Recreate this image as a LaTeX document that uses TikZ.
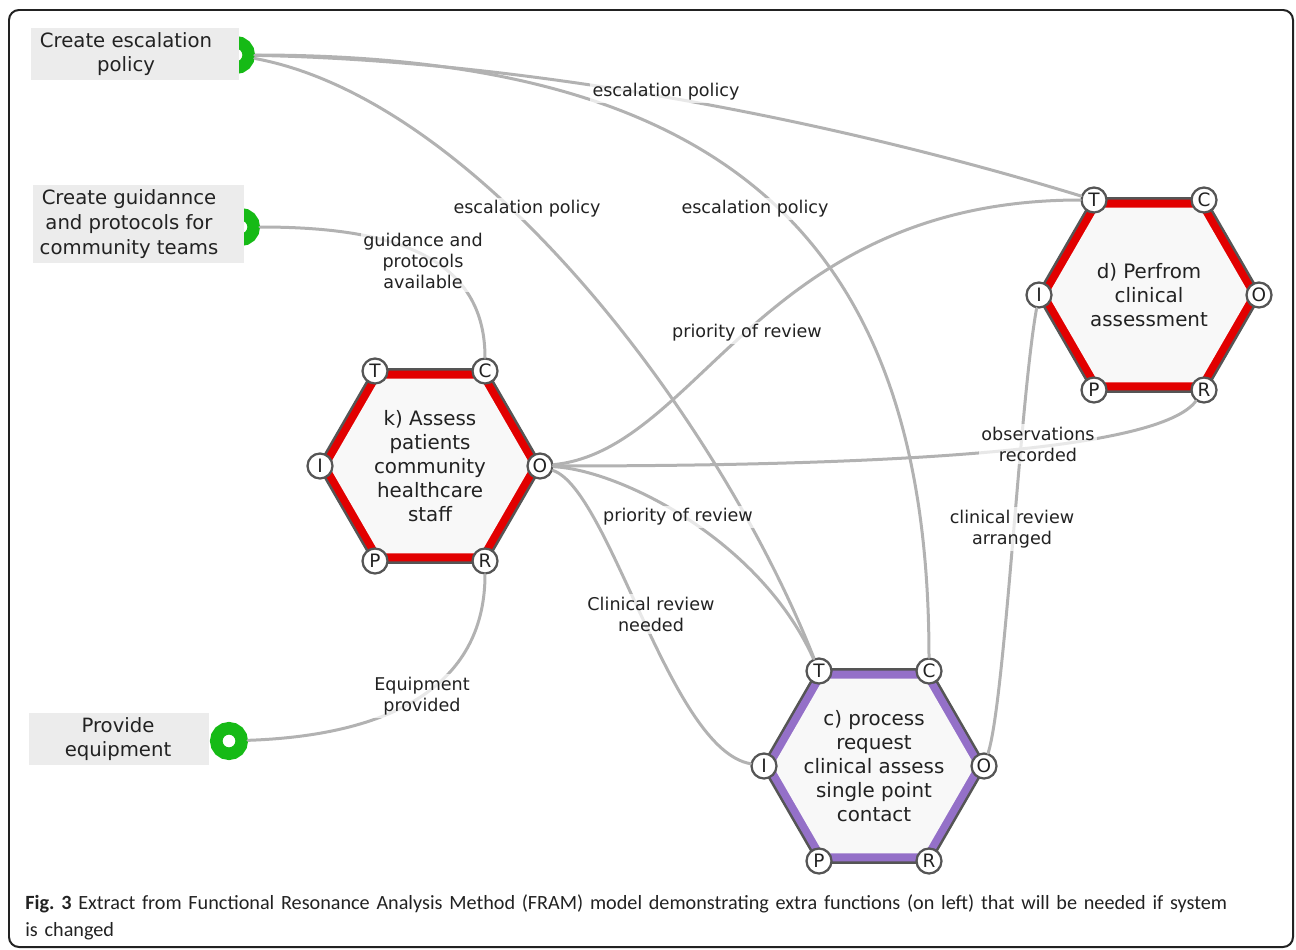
\documentclass[tikz,border=0pt]{standalone}
\usepackage{fontspec}
\setmainfont{DejaVu Sans}
\newfontfamily\capfont{Carlito}
\usetikzlibrary{calc}
\definecolor{linegrey}{RGB}{178,178,178}
\definecolor{hexgrey}{RGB}{85,85,85}
\definecolor{hexred}{RGB}{226,0,0}
\definecolor{hexpurple}{RGB}{148,112,200}
\definecolor{hexfill}{RGB}{248,248,248}
\definecolor{boxgrey}{RGB}{236,236,236}
\definecolor{fgreen}{RGB}{22,186,22}
\definecolor{txt}{RGB}{34,34,34}

\newcommand\framhex[4]{%
	\fill[hexgrey] ($#2+(0:113)$) \foreach \a in {60,120,...,300} {-- ($#2+(\a:113)$)} -- cycle;
	\fill[#3] ($#2+(0:110)$) \foreach \a in {60,120,...,300} {-- ($#2+(\a:110)$)} -- cycle;
	\fill[hexfill] ($#2+(0:101)$) \foreach \a in {60,120,...,300} {-- ($#2+(\a:101)$)} -- cycle;
	\node[hextext] (#1) at #2 {#4};
	\foreach \p/\dx/\dy in {T/-55/-95, C/55/-95, O/110/0, R/55/95, P/-55/95, I/-110/0}
	\node[port] (#1\p) at ($#2+(\dx,\dy)$) {\p};
}

\begin{document}
\begin{tikzpicture}[x=0.02cm, y=-0.02cm,
	flow/.style={draw=linegrey, line width=0.06cm, line cap=round},
	port/.style={circle, draw=hexgrey, line width=0.045cm, fill=white, minimum size=0.5cm, inner sep=0pt, text=txt, font=\fontsize{10.5}{11}\selectfont},
	hextext/.style={align=center, text=txt, font=\fontsize{11.3}{13.6}\selectfont},
	fnbox/.style={fill=boxgrey, inner sep=0pt},
	boxtext/.style={align=center, text=txt, font=\fontsize{11.2}{14}\selectfont},
	ring/.style={circle, draw=fgreen, fill=white, line width=0.25cm, minimum size=0.51cm, inner sep=0pt},
	lbl/.style={align=center, text=txt, fill=white, fill opacity=0.7, text opacity=1, inner sep=1.5pt, font=\fontsize{10}{12}\selectfont}]
	\useasboundingbox (0,0) rectangle (1296,950);
	\draw[line width=0.04cm, color=txt, rounded corners=0.2cm] (9,10) rectangle (1293,947);

	\node[ring] (escRing) at (236,55) {};
	\node[fnbox, minimum width=4.16cm, minimum height=1.04cm] (escBox) at (135,54) {};
	\node[boxtext] (esc) at (126,54) {Create escalation\\policy};

	\node[ring] (guideRing) at (241,227) {};
	\node[fnbox, minimum width=4.22cm, minimum height=1.56cm] (guideBox) at (138.5,224) {};
	\node[boxtext] (guide) at (129,224) {Create guidannce\\and protocols for\\community teams};

	\node[ring] (equipRing) at (229,741) {};
	\node[fnbox, minimum width=3.6cm, minimum height=1.04cm] (equipBox) at (119,739) {};
	\node[boxtext] (equip) at (118,739) {Provide\\equipment};

	\framhex{k}{(430,466)}{hexred}{k) Assess\\patients\\community\\healthcare\\staff}
	\framhex{d}{(1149,295)}{hexred}{d) Perfrom\\clinical\\assessment}
	\framhex{c}{(874,766)}{hexpurple}{c) process\\request\\clinical assess\\single point\\contact}

	\draw[flow] (escRing) .. controls (500,60) and (800,110) .. (dT);
	\draw[flow] (escRing) .. controls (480,100) and (720,420) .. (cT);
	\draw[flow] (escRing) .. controls (727,55) and (929,239) .. (cC);
	\draw[flow] (guideRing) .. controls (380,227) and (485,250) .. (kC);
	\draw[flow] (equipRing) .. controls (400,735) and (485,680) .. (kR);
	\draw[flow] (kO) .. controls (700,450) and (760,200) .. (dT);
	\draw[flow] (kO) .. controls (900,466) and (1160,450) .. (dR);
	\draw[flow] (kO) .. controls (620,470) and (760,540) .. (cT);
	\draw[flow] (kO) .. controls (610,490) and (670,750) .. (cI);
	\draw[flow] (cO) .. controls (1005,700) and (1020,400) .. (dI);

	\node[lbl] (escA) at (666,92) {escalation policy};
	\node[lbl] (escB) at (527,209) {escalation policy};
	\node[lbl] (escC) at (755,209) {escalation policy};
	\node[lbl] (guideL) at (423,261) {guidance and\\protocols\\available};
	\node[lbl] (prioA) at (747,333) {priority of review};
	\node[lbl] (obs) at (1038,444) {observations\\recorded};
	\node[lbl] (prioB) at (678,517) {priority of review};
	\node[lbl] (arr) at (1012,529) {clinical review\\arranged};
	\node[lbl] (need) at (651,614) {Clinical review\\needed};
	\node[lbl] (equipL) at (422,696) {Equipment\\provided};

	\node[anchor=north west, inner sep=0pt, text width=24.48cm, text=txt, font=\capfont\fontsize{11.5}{15.3}\selectfont] (cap) at (25,894)
	{\frenchspacing\hyphenpenalty=10000 \textbf{Fig. 3} Extract from Functional Resonance Analysis Method (FRAM) model demonstrating extra functions (on left) that will be needed if system\linebreak is changed};
\end{tikzpicture}
\end{document}
